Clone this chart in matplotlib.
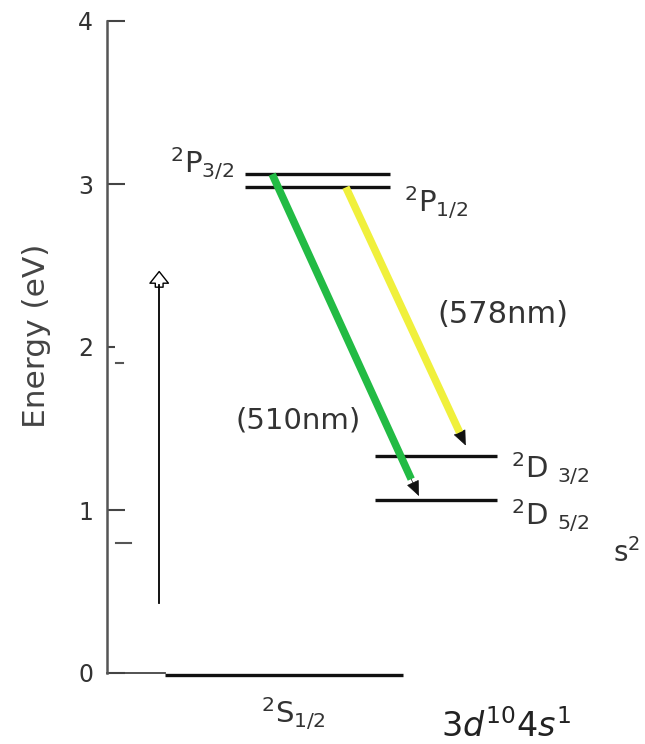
import matplotlib
matplotlib.use("Agg")
import matplotlib.pyplot as plt
from matplotlib.patches import FancyArrowPatch

# ---- data ----
level_labels = [r"$^2$P$_{3/2}$", r"$^2$P$_{1/2}$", r"$^2$D $_{3/2}$", r"$^2$D $_{5/2}$", r"$^2$S$_{1/2}$"]
level_energy = [3.06, 2.98, 1.33, 1.06, -0.01]
level_x0 = [2.56, 2.56, 4.98, 4.98, 1.08]
level_x1 = [5.26, 5.26, 7.25, 7.25, 5.50]

trans_labels = ["(510nm)", "(578nm)"]
trans_colors = ["#22bb44", "#f0f03c"]
trans_x0 = [3.07, 4.44]
trans_y0 = [3.06, 2.98]
trans_x1 = [5.82, 6.69]
trans_y1 = [1.07, 1.38]

exc_x = 0.97
exc_y0 = 0.43
exc_y1 = 2.48

yticks = [0, 1, 2, 3, 4]
ytick_labels = ["0", "1", "2", "3", "4"]
ylabel_text = "Energy (eV)"
config_text = r"3$d^{10}$4$s^1$"
fragment_text = r"s$^2$"

stray_y = [1.90, 0.80]
stray_x0 = [0.17, 0.17]
stray_x1 = [0.30, 0.45]

ink = "#333333"

fig = plt.figure(figsize=(6.45, 7.44), dpi=100)
ax = fig.add_axes([107/645, 71/744, 1 - 107/645, 652/744])
ax.set_xlim(0, 10)
ax.set_ylim(0, 4)
for s in ["top", "right", "bottom"]:
    ax.spines[s].set_visible(False)
ax.spines["left"].set_color("#555555")
ax.spines["left"].set_linewidth(1.8)
ax.set_xticks([])
ax.set_yticks(yticks)
ax.set_yticklabels(ytick_labels, fontsize=17, color=ink)
ax.tick_params(axis="y", direction="in", length=13, width=1.5, color="#444444", pad=10)
ax.yaxis.get_major_ticks()[2].tick1line.set_markersize(6)
ax.set_ylabel(ylabel_text, fontsize=22.5, color="#444444", va="center")
ax.yaxis.set_label_coords(-0.131, 0.517)

# bottom spine piece
ax.plot([0, level_x0[4]], [0, 0], color="#444444", lw=1.3, clip_on=False)

# levels
for e, x0, x1 in zip(level_energy, level_x0, level_x1):
    ax.plot([x0, x1], [e, e], color="#111111", lw=2.4, solid_capstyle="butt", clip_on=False)

# stray marks
for y, x0, x1 in zip(stray_y, stray_x0, stray_x1):
    ax.plot([x0, x1], [y, y], color="#555555", lw=1.5)

# transitions
for x0, y0, x1, y1, c in zip(trans_x0, trans_y0, trans_x1, trans_y1, trans_colors):
    f = 0.06
    xm = x1 - f * (x1 - x0)
    ym = y1 - f * (y1 - y0)
    ax.plot([x0, xm], [y0, ym], color=c, lw=5.5, solid_capstyle="butt")
    ax.add_patch(FancyArrowPatch((xm + 0.02 * (x0 - x1), ym + 0.02 * (y0 - y1)), (x1, y1),
                                 arrowstyle="-|>,head_length=0.7,head_width=0.3",
                                 mutation_scale=14, color="#111111", lw=0.5))

# excitation arrow
ax.plot([exc_x, exc_x], [exc_y0, exc_y1 - 0.1], color="black", lw=1.3)
ax.add_patch(FancyArrowPatch((exc_x, exc_y1 - 0.13), (exc_x, exc_y1),
                             arrowstyle="simple,head_width=0.95,head_length=0.6,tail_width=0.4",
                             mutation_scale=14, fc="white", ec="black", lw=1.0))

# labels
lab_fs = 21
ax.text(2.36, 3.067, level_labels[0], fontsize=lab_fs, color=ink, ha="right", va="baseline")
ax.text(5.52, 2.83, level_labels[1], fontsize=lab_fs, color=ink, ha="left", va="baseline")
ax.text(7.50, 1.196, level_labels[2], fontsize=lab_fs, color=ink, ha="left", va="baseline")
ax.text(7.50, 0.908, level_labels[3], fontsize=lab_fs, color=ink, ha="left", va="baseline")
ax.text(3.46, -0.307, level_labels[4], fontsize=lab_fs, color=ink, ha="center", va="baseline")
ax.text(3.55, 1.503, trans_labels[0], fontsize=21, color=ink, ha="center", va="baseline")
ax.text(7.36, 2.147, trans_labels[1], fontsize=22, color=ink, ha="center", va="baseline")
ax.text(7.42, -0.393, config_text, fontsize=24, color="#222222", ha="center", va="baseline")
ax.text(9.91, 0.68, fragment_text, fontsize=20, color=ink, ha="right", va="baseline")

fig.savefig("out.png", dpi=100)
